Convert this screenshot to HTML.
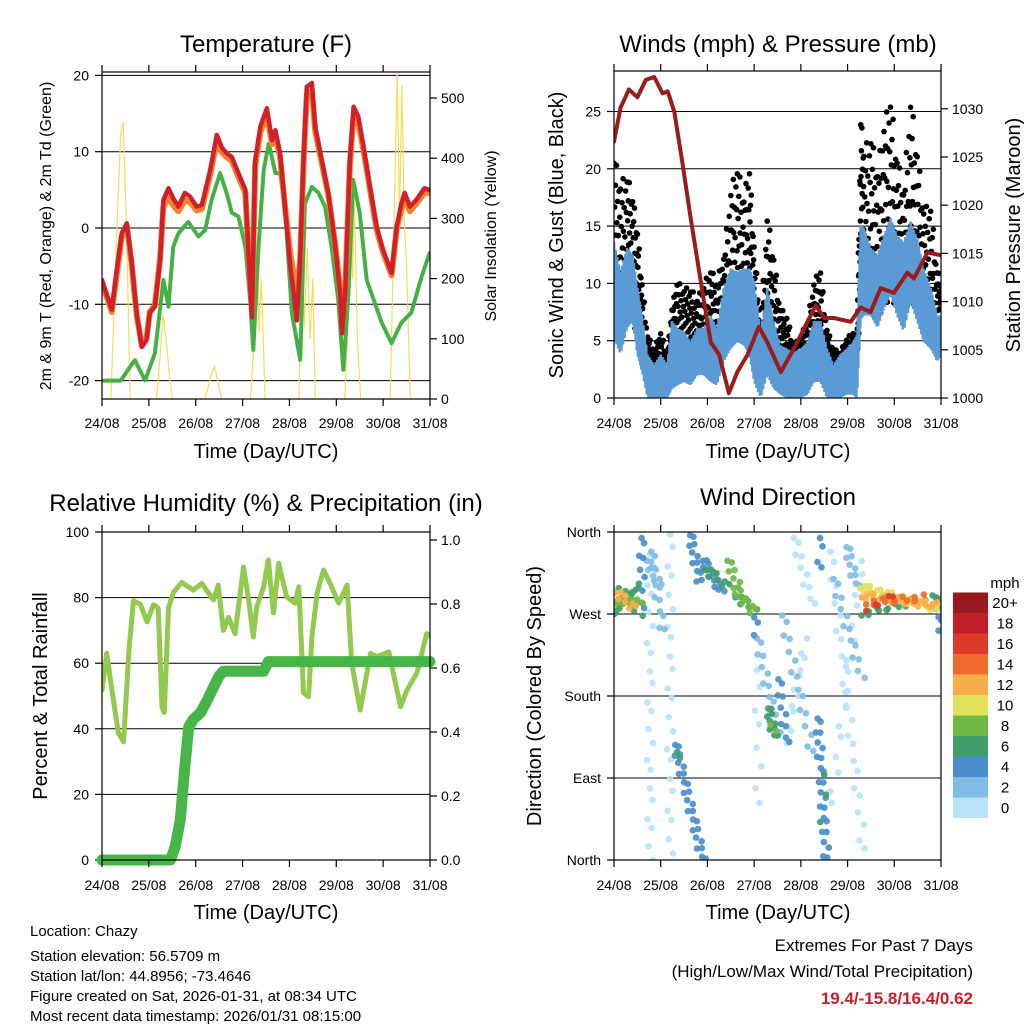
<!DOCTYPE html>
<html><head><meta charset="utf-8"><style>
html,body{margin:0;padding:0;background:#fff;}
svg{display:block;font-family:"Liberation Sans",Arial,sans-serif;}
</style></head><body>
<svg id="chart" width="1024" height="1024" viewBox="0 0 1024 1024">
<defs>
<clipPath id="c1"><rect x="102" y="72" width="328" height="327"/></clipPath>
<clipPath id="c2"><rect x="614" y="71" width="327" height="327"/></clipPath>
<clipPath id="c3"><rect x="102" y="532" width="328" height="328"/></clipPath>
<clipPath id="c4"><rect x="614" y="532" width="327" height="328"/></clipPath>
</defs>
<text x="266" y="52" font-size="24" text-anchor="middle">Temperature (F)</text>
<text x="778" y="52" font-size="24" text-anchor="middle">Winds (mph) &amp; Pressure (mb)</text>
<text x="266" y="511" font-size="24" text-anchor="middle">Relative Humidity (%) &amp; Precipitation (in)</text>
<text x="778" y="505" font-size="24" text-anchor="middle">Wind Direction</text>
<text transform="translate(51,236) rotate(-90)" font-size="16" text-anchor="middle">2m &amp; 9m T (Red, Orange) &amp; 2m Td (Green)</text>
<text transform="translate(496,236) rotate(-90)" font-size="16" text-anchor="middle">Solar Insolation (Yellow)</text>
<text transform="translate(563,235) rotate(-90)" font-size="20" text-anchor="middle">Sonic Wind &amp; Gust (Blue, Black)</text>
<text transform="translate(1020,235) rotate(-90)" font-size="20" text-anchor="middle">Station Pressure (Maroon)</text>
<text transform="translate(47,696) rotate(-90)" font-size="20" text-anchor="middle">Percent &amp; Total Rainfall</text>
<text transform="translate(541,696) rotate(-90)" font-size="20" text-anchor="middle">Direction (Colored By Speed)</text>
<text x="266" y="458" font-size="20" text-anchor="middle">Time (Day/UTC)</text>
<text x="778" y="458" font-size="20" text-anchor="middle">Time (Day/UTC)</text>
<text x="266" y="919" font-size="20" text-anchor="middle">Time (Day/UTC)</text>
<text x="778" y="919" font-size="20" text-anchor="middle">Time (Day/UTC)</text>
<g font-size="15">
<text x="30" y="936">Location: Chazy</text>
<text x="30" y="961">Station elevation: 56.5709 m</text>
<text x="30" y="981">Station lat/lon: 44.8956; -73.4646</text>
<text x="30" y="1001">Figure created on Sat, 2026-01-31, at 08:34 UTC</text>
<text x="30" y="1021">Most recent data timestamp: 2026/01/31 08:15:00</text>
</g>
<g font-size="17" text-anchor="end">
<text x="973" y="951">Extremes For Past 7 Days</text>
<text x="973" y="977">(High/Low/Max Wind/Total Precipitation)</text>
<text x="973" y="1004" fill="#c8202a" font-weight="bold">19.4/-15.8/16.4/0.62</text>
</g>
<text x="1005" y="588" font-size="15" text-anchor="middle">mph</text>
</svg>
<script>
const dayLabels=['24/08','25/08','26/08','27/08','28/08','29/08','30/08','31/08'];
// Temperature
const tempT=[0,0.21,0.31,0.42,0.53,0.63,0.74,0.85,0.95,1.02,1.13,1.24,1.31,1.42,1.52,1.63,1.77,1.88,2.02,2.13,2.31,2.45,2.56,2.66,2.77,2.91,3.06,3.13,3.2,3.27,3.38,3.52,3.63,3.7,3.8,3.91,4.02,4.09,4.16,4.23,4.3,4.37,4.48,4.55,4.69,4.83,4.97,5.08,5.12,5.19,5.29,5.37,5.47,5.58,5.72,5.86,6.0,6.18,6.29,6.39,6.46,6.57,6.71,6.88,6.98];
const redV=[-6.8,-10.7,-5.9,-0.7,0.6,-4.2,-11.2,-15.6,-14.7,-11.1,-10.3,-4.2,3.7,5.2,3.9,2.8,4.6,4.1,2.8,3.0,7.6,12.2,10.5,9.8,9.3,7.2,5.0,-4.2,-11.7,8.9,13.3,15.7,11.5,12.8,9.8,2.4,-5.1,-8.5,-12.1,-4.2,8.9,18.5,19.0,13.3,8.9,4.6,-2.0,-8.5,-13.8,-8.5,8.9,15.9,14.6,10.7,5.4,0.2,-2.9,-5.9,0.2,3.2,4.6,2.8,3.7,5.2,5.0];
const orangeV=[-7.2,-11.0,-6.3,-1.2,0.2,-4.6,-11.4,-15.4,-14.5,-11.0,-10.1,-4.0,2.8,4.0,3.0,2.2,3.6,3.4,2.3,2.5,7.0,11.5,9.9,9.3,8.8,6.7,4.6,-4.0,-10.5,8.2,12.6,14.8,11.0,12.0,9.3,2.6,-3.5,-6.0,-9.0,-4.0,8.3,17.5,18.0,12.7,8.5,4.3,-1.8,-7.8,-12.5,-8.0,8.3,14.8,13.8,10.2,5.0,-0.2,-3.2,-6.2,-0.2,2.5,3.8,2.2,3.2,4.6,4.6];
const dewT=[0,0.4,0.7,0.92,1.13,1.31,1.42,1.52,1.63,1.84,2.06,2.2,2.34,2.52,2.66,2.77,2.91,3.06,3.16,3.23,3.34,3.45,3.56,3.7,3.8,3.91,4.05,4.23,4.33,4.48,4.62,4.76,4.9,5.04,5.15,5.26,5.36,5.5,5.65,5.97,6.18,6.39,6.6,6.82,6.99];
const dewV=[-20,-20,-17.3,-20,-16.4,-6.8,-10.3,-2.5,-0.7,0.8,-1.1,-0.3,3.7,7.2,4.6,2.0,1.5,-2.5,-9.4,-16.0,-2.5,7.6,11.1,7.2,7.2,2.4,-11.1,-17.3,3.2,5.4,4.6,2.8,-2.5,-9.4,-18.6,-8.5,6.3,2.0,-6.8,-12.4,-15.1,-12.4,-11.1,-6.4,-3.3];
const solarT=[0,0.19,0.3,0.4,0.45,0.52,0.6,1.16,1.25,1.3,1.38,1.45,1.5,2.2,2.33,2.4,2.47,2.55,3.17,3.25,3.32,3.35,3.4,3.48,4.2,4.28,4.32,4.38,4.44,4.5,4.55,5.18,5.25,5.3,5.35,5.38,5.45,5.52,6.15,6.22,6.3,6.35,6.4,6.45,6.5,6.58,7.0];
const solarV=[0,0,250,440,460,300,0,0,80,140,90,30,0,0,40,55,30,0,0,100,240,110,200,0,0,240,120,250,100,200,0,0,120,320,200,350,100,0,0,250,540,300,520,300,220,0,0];
const tempTicks=[-20,-10,0,10,20];
const solarTicks=[0,100,200,300,400,500];
// Winds
const windT=[0,0.14,0.28,0.4,0.5,0.6,0.72,0.86,1.0,1.14,1.24,1.35,1.5,1.64,1.78,1.92,2.07,2.2,2.35,2.5,2.64,2.78,2.9,3.0,3.14,3.28,3.42,3.56,3.7,3.85,4.0,4.14,4.28,4.42,4.56,4.7,4.84,4.98,5.12,5.2,5.28,5.35,5.5,5.64,5.78,5.92,6.06,6.2,6.35,6.49,6.63,6.78,6.92,7.0];
const blueLo=[5.2,3.8,6.1,6.7,3.8,2.3,0,0,0,0,0.8,1.1,1.4,1.1,2.0,2.0,1.4,1.1,3.2,4.3,4.9,4.6,3.8,1.4,0,2.0,0.8,0.3,0,0,0,0.3,1.4,1.4,0,0,0,0.3,0.3,0,6.9,7.2,7.2,6.1,7.8,9.0,7.2,5.8,8.4,6.7,4.9,4.3,3.2,3.8];
const blueHi=[13.6,11.0,13.1,12.5,9.6,7.2,3.8,2.9,3.8,2.9,6.7,6.1,5.8,4.9,6.1,6.1,7.2,6.1,9.6,11.3,11.0,11.3,11.3,10.2,5.8,9.6,6.7,4.6,4.3,4.0,4.3,4.9,6.7,6.7,4.3,2.9,3.8,4.3,4.9,5.5,15.1,14.8,13.1,12.5,14.2,15.7,14.2,13.6,15.4,13.9,11.3,9.6,7.2,7.2];
const gustHi=[21.2,18.9,19.5,17.7,14.8,10.2,5.5,4.3,5.8,3.8,7.9,10.2,9.6,9.6,8.7,9.9,11.3,10.2,12.5,18.3,20.3,17.7,20.3,13.6,6.6,16.0,12.5,7.9,7.2,4.6,5.5,6.7,10.2,11.3,6.1,4.3,4.0,5.2,5.8,5.0,24.7,21.8,23.0,20.0,24.1,26.3,21.2,18.3,26.3,21.8,16.6,16.9,11.3,10.2];
const presT=[0,0.14,0.32,0.5,0.68,0.86,1.04,1.15,1.29,1.47,1.64,1.86,2.07,2.25,2.46,2.64,2.86,3.1,3.28,3.57,3.86,4.14,4.32,4.5,4.71,5.07,5.28,5.49,5.71,5.99,6.28,6.42,6.71,7.0];
const presV=[1026.6,1030.1,1032,1031.2,1033,1033.3,1031.6,1031.8,1029.7,1024.2,1018.7,1012,1005.8,1004.5,1000.5,1002.7,1004.5,1007.4,1005.8,1002.7,1005.2,1007.9,1009.6,1008.3,1008.3,1007.9,1009.4,1008.9,1011.4,1010.9,1013,1012.4,1015.1,1014.8];
const windTicks=[0,5,10,15,20,25];
const presTicks=[1000,1005,1010,1015,1020,1025,1030];
// Humidity / precip
const rhT=[0,0.1,0.22,0.35,0.46,0.57,0.67,0.82,0.96,1.1,1.2,1.28,1.33,1.42,1.53,1.7,1.95,2.13,2.38,2.48,2.59,2.7,2.84,3.02,3.13,3.23,3.3,3.45,3.55,3.66,3.77,3.94,4.12,4.2,4.3,4.41,4.48,4.59,4.73,4.87,5.05,5.23,5.33,5.51,5.73,5.87,6.12,6.37,6.51,6.72,6.93,7.0];
const rhV=[51.8,63,51,38.7,36,63,79,78,72.6,77.8,76.8,46.7,45,77,81.7,84.6,82.3,84.3,79.3,83.8,70,74,69,89.3,79.3,68,77,83.3,91.5,75.3,90.5,80.2,78.3,83.3,51,49.8,68,81.4,88.4,84.3,78.3,83.8,60,45.7,63,62,63.4,46.7,51.8,57,69,68.5];
const prT=[0,1.46,1.56,1.67,1.76,1.85,1.95,2.1,2.25,2.38,2.5,2.59,3.45,3.55,7.0];
const prV=[0,0,0.04,0.125,0.28,0.416,0.44,0.46,0.5,0.54,0.575,0.59,0.59,0.62,0.62];
const rhTicks=[0,20,40,60,80,100];
const prTicks=[0,0.2,0.4,0.6,0.8,1.0];
// Wind direction segments
const wdT0=[0.0,0.02,0.03,0.1,0.59,0.77,1.2,0.8,0.7,1.31,1.35,1.63,1.9,1.95,2.43,2.56,2.6,3.0,3.06,3.06,3.3,3.35,3.52,3.6,3.7,3.85,4.41,4.36,4.5,4.63,5.3,4.98,4.7,5.27,5.3,5.4,5.4,5.3,6.9,7.0];
const wdD0=[285,272,295,300,355,337,359,340,330,128,120,358,330,320,330,300,290,268,245,210,168,150,200,270,130,355,355,157,95,340,330,345,310,300,290,282,275,270,290,265];
const wdT1=[0.55,0.5,0.45,0.55,0.59,0.77,1.2,1.05,1.0,1.91,1.36,1.84,2.3,2.45,2.63,3.0,3.0,3.05,3.5,3.1,3.45,3.42,3.7,4.25,4.1,4.25,4.41,4.55,4.47,5.35,4.65,5.2,5.3,7.0,6.9,6.6,6.0,7.0,7.0,7.0];
const wdD1=[282,300,276,268,275,0,7,250,300,0,110,304,295,300,305,272,275,250,140,60,135,140,128,117,240,280,318,0,45,10,60,300,200,275,280,288,290,290,262,255];
const wdS=[9,7,12,6,4,1,1,3,2,4,6,4,4,6,8,9,7,4,2,1,7,9,4,2,1,1,4,4,6,1,1,3,2,10,12,14,16,7,5,4];
const wdN=[14,12,8,6,10,22,22,12,8,26,2,12,14,8,6,12,6,3,14,8,10,2,10,16,12,10,4,24,3,24,16,10,14,30,24,12,5,18,6,3];
const dirTicks=[0,90,180,270,360];
const dirLabels=['North','East','South','West','North'];
const cbLabels=['0','2','4','6','8','10','12','14','16','18','20+'];
const cbColors=['#b9e3f9','#80bde6','#4a8fcb','#3f9e6a','#70b844','#e3e05a','#f7ad4c','#f06a2d','#dd3a2a','#c0202a','#981a1e'];

const NS='http://www.w3.org/2000/svg';
const svg=document.getElementById('chart');
function mk(tag,parent){const e=document.createElementNS(NS,tag);(parent||svg).appendChild(e);return e;}
function line(p,x1,y1,x2,y2,stroke,w){const l=mk('line',p);l.setAttribute('x1',x1);l.setAttribute('y1',y1);l.setAttribute('x2',x2);l.setAttribute('y2',y2);l.setAttribute('stroke',stroke);l.setAttribute('stroke-width',w);return l;}
function txt(p,x,y,s,anchor,size){const t=mk('text',p);t.setAttribute('x',x);t.setAttribute('y',y);t.setAttribute('text-anchor',anchor);t.setAttribute('font-size',size);t.textContent=s;return t;}

function panel(name){
  const g=mk('g');
  
  
  return g;
}
function frame(g,x0,y0,x1,y1,labelY){
  const r=mk('rect',g);r.setAttribute('x',x0);r.setAttribute('y',y0);r.setAttribute('width',x1-x0);r.setAttribute('height',y1-y0);r.setAttribute('fill','none');r.setAttribute('stroke','#000');r.setAttribute('stroke-width',1.2);
  
  
  const dx=(x1-x0)/7;
  for(let i=0;i<dayLabels.length;i++){
    const x=x0+i*dx;
    line(g,x,y1,x,y1+7,'#000',1.2);line(g,x,y0,x,y0-7,'#000',1.2);
    const t=txt(g,x,labelY,dayLabels[i],'middle',14);
    
    
  }
}
function leftAxis(g,x0,x1,ticks,labels,sy){
  for(let i=0;i<ticks.length;i++){const y=sy(ticks[i]);
    const gl=line(g,x0,y,x1,y,'#000',1);
    
    
    line(g,x0-7,y,x0,y,'#000',1.2);
    const t=txt(g,x0-13,y+5,labels[i],'end',14);
    
    }
}
function rightAxis(g,x1,ticks,labels,sy){
  for(let i=0;i<ticks.length;i++){const y=sy(ticks[i]);
    line(g,x1,y,x1+7,y,'#000',1.2);
    const t=txt(g,x1+11,y+5,labels[i],'start',14);
    
    }
}
function poly(g,xs,ys,sx,sy,stroke,w,clip){
  const p=mk('polyline',g);
  p.setAttribute('points',xs.map((t,i)=>sx(t).toFixed(1)+','+sy(ys[i]).toFixed(1)).join(' '));
  p.setAttribute('fill','none');p.setAttribute('stroke',stroke);p.setAttribute('stroke-width',w);
  p.setAttribute('stroke-linejoin','round');p.setAttribute('stroke-linecap','round');
  if(clip)p.setAttribute('clip-path','url(#'+clip+')');
  return p;
}

// ---- Panel 1 Temperature
{const x0=102,x1=430,y0=72,y1=399;
 const sx=d=>x0+d*(x1-x0)/7, sy=v=>228-v*7.63, ss=v=>399-v*0.602;
 const g=panel('temperature-panel');
 leftAxis(g,x0,x1,tempTicks,tempTicks.map(String),sy);
 rightAxis(g,x1,solarTicks,solarTicks.map(String),ss);
 const s=poly(g,solarT,solarV,sx,ss,'#f6dc5a',1.2,'c1');
 
 
 const dw=poly(g,dewT,dewV,sx,sy,'#45b045',4,'c1');dw.setAttribute('stroke-dasharray','2.5 1.5');
 
 
 const o=poly(g,tempT,orangeV,sx,sy,'#f2822e',6,'c1');
 
 
 const r=poly(g,tempT,redV,sx,sy,'#d0202a',4.5,'c1');
 
 
 frame(g,x0,y0,x1,y1,428);
}
// ---- Panel 2 Winds
{const x0=614,x1=941,y0=71,y1=398;
 const sx=d=>x0+d*(x1-x0)/7, sy=v=>398-v*11.46, sp=p=>398-(p-1000)*9.64;
 const g=panel('winds-panel');
 leftAxis(g,x0,x1,windTicks,windTicks.map(String),sy);
 rightAxis(g,x1,presTicks,presTicks.map(String),sp);
 const cg=mk('g',g);cg.setAttribute('clip-path','url(#c2)');
 let pts=[];
 for(let i=0;i<windT.length-1;i++){
   const steps=8;
   for(let k=0;k<steps;k++){const f=k/steps;const t=windT[i]+f*(windT[i+1]-windT[i]);
     const lo=blueLo[i]+f*(blueLo[i+1]-blueLo[i]), hi=blueHi[i]+f*(blueHi[i+1]-blueHi[i]);
     pts.push(sx(t).toFixed(1)+','+sy(k%2?lo:hi).toFixed(1));}
 }
 const frac=[0.95,0.4,0.7,0.15,0.85,0.55,0.3,1.0,0.65,0.05,0.8,0.45,0.6,0.25,0.9,0.35,0.75,0.5];
 const gd=mk('g',cg);
 
 
 for(let i=0;i<windT.length-1;i++){
   for(let k=0;k<frac.length;k++){const f=k/frac.length;const t=windT[i]+f*(windT[i+1]-windT[i]);
     const hi=blueHi[i]+f*(blueHi[i+1]-blueHi[i]);const gu=gustHi[i]+f*(gustHi[i+1]-gustHi[i]);
     const base=hi*0.5;const v=base+frac[k]*(gu-base);
     const c=mk('circle',gd);c.setAttribute('cx',sx(t).toFixed(1));c.setAttribute('cy',sy(v).toFixed(1));c.setAttribute('r',2.8);c.setAttribute('fill','#000');}
 }
 const bl=mk('polyline',cg);bl.setAttribute('points',pts.join(' '));bl.setAttribute('fill','none');bl.setAttribute('stroke','#5b9bd5');bl.setAttribute('stroke-width',2.6);
 
 
 const pr=poly(g,presT,presV,sx,sp,'#9b1c1c',4,'c2');
 
 
 frame(g,x0,y0,x1,y1,428);
}
// ---- Panel 3 Humidity
{const x0=102,x1=430,y0=532,y1=860;
 const sx=d=>x0+d*(x1-x0)/7, sy=v=>860-v*3.28, sp=v=>860-v*320;
 const g=panel('humidity-panel');
 leftAxis(g,x0,x1,rhTicks,rhTicks.map(String),sy);
 rightAxis(g,x1,prTicks,prTicks.map(v=>v.toFixed(1)),sp);
 const rh=poly(g,rhT,rhV,sx,sy,'#92c94e',5,'c3');
 
 
 const p=poly(g,prT,prV,sx,sp,'#48b549',11,null);
 
 
 frame(g,x0,y0,x1,y1,890);
}
// ---- Panel 4 Wind direction
{const x0=614,x1=941,y0=532,y1=860;
 const sx=d=>x0+d*(x1-x0)/7, sy=v=>860-v*328/360;
 const g=panel('wind-direction-panel');
 leftAxis(g,x0,x1,dirTicks,dirLabels,sy);
 const cg=mk('g',g);cg.setAttribute('clip-path','url(#c4)');
 
 
 const jit=[0,2.5,-2.5,1.5,-1.5,3,-3,0.8];
 const order=wdS.map((s,i)=>i).sort((a,b)=>wdS[a]-wdS[b]);
 for(const i of order){
   const n=wdN[i];const col=cbColors[Math.max(0,Math.min(10,Math.floor(wdS[i]/2)))];
   for(let k=0;k<n;k++){const f=n>1?k/(n-1):0.5;
     const t=wdT0[i]+f*(wdT1[i]-wdT0[i]), d=wdD0[i]+f*(wdD1[i]-wdD0[i]);
     const c=mk('circle',cg);c.setAttribute('cx',(sx(t)+jit[k%8]).toFixed(1));c.setAttribute('cy',(sy(d)+jit[(k+3)%8]).toFixed(1));
     c.setAttribute('r',3.3);c.setAttribute('fill',col);c.setAttribute('opacity','0.92');}
 }
 frame(g,x0,y0,x1,y1,890);
 const cb=mk('g');
 
 
 const h=20.5;
 for(let i=0;i<cbColors.length;i++){const y=818-(i+1)*h;
   const r=mk('rect',cb);r.setAttribute('x',953);r.setAttribute('y',y);r.setAttribute('width',35);r.setAttribute('height',h);r.setAttribute('fill',cbColors[i]);
   const t=txt(cb,1005,y+h/2+5,cbLabels[i],'middle',15);
   
   }
}
</script>
</body></html>
